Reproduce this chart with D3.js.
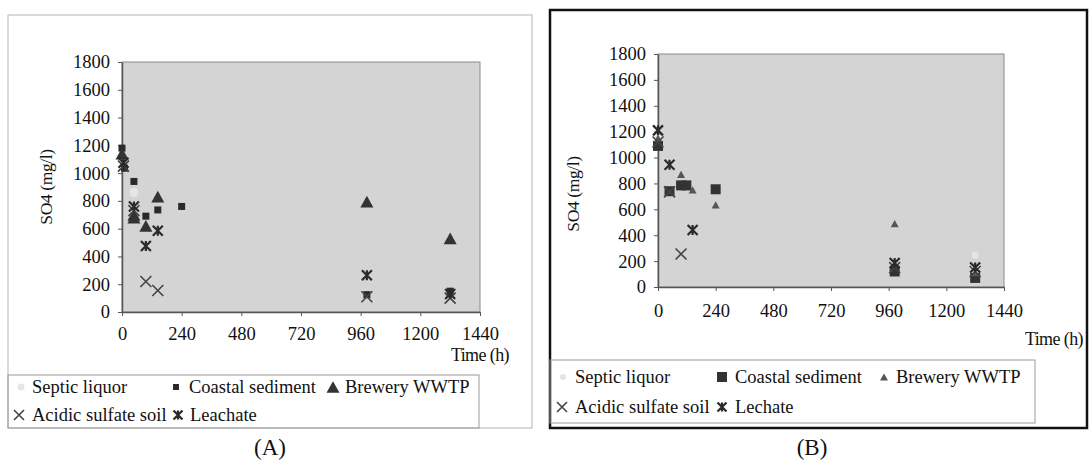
<!DOCTYPE html>
<html><head><meta charset="utf-8">
<script src="https://cdn.jsdelivr.net/npm/d3@7"></script>
<style>
html,body{margin:0;padding:0;background:#fff;}
svg text{font-family:"Liberation Serif","Times New Roman",serif;fill:#111;}
</style></head>
<body><svg id="chart" width="1089" height="466"></svg>
<script>
// ---------- data ----------
const xTicks = [0, 240, 480, 720, 960, 1200, 1440];
const yTicks = [0, 200, 400, 600, 800, 1000, 1200, 1400, 1600, 1800];
const namesA = ["Septic liquor", "Coastal sediment", "Brewery WWTP", "Acidic sulfate soil", "Leachate"];
const namesB = ["Septic liquor", "Coastal sediment", "Brewery WWTP", "Acidic sulfate soil", "Lechate"];
const xLabel = "Time (h)";
const yLabel = "SO4 (mg/l)";

// Panel A  [time h, SO4 mg/l]
const aSeptic   = [[0, 1110], [48, 860]];
const aCoastal  = [[0, 1180], [10, 1035], [48, 940], [96, 690], [144, 735], [240, 760], [985, 125], [1320, 150]];
const aBrewery  = [[0, 1140], [48, 700], [48, 680], [96, 620], [144, 830], [985, 795], [1320, 530]];
const aAcidic   = [[6, 1050], [48, 730], [96, 220], [144, 155], [985, 110], [1320, 100]];
const aLeachate = [[6, 1075], [48, 760], [96, 475], [144, 585], [985, 265], [1320, 130]];

// Panel B
const bSeptic   = [[0, 1150], [1320, 245]];
const bCoastal  = [[0, 1090], [48, 740], [96, 785], [118, 785], [240, 755], [985, 120], [1320, 70]];
const bBrewery  = [[0, 1150], [96, 870], [144, 750], [240, 635], [985, 490], [1320, 110]];
const bAcidic   = [[0, 1120], [48, 735], [96, 255], [985, 150], [1320, 120]];
const bLeachate = [[0, 1210], [48, 945], [144, 440], [985, 185], [1320, 150]];

// ---------- drawing ----------
const svg = d3.select("#chart");
const FONT = '"Liberation Serif", "Times New Roman", serif';

function marker(g, type, x, y, size, color) {
  const s = size;
  if (type === "circle") {
    g.append("circle").attr("cx", x).attr("cy", y).attr("r", s / 2).attr("fill", color);
  } else if (type === "square") {
    g.append("rect").attr("x", x - s / 2).attr("y", y - s / 2).attr("width", s).attr("height", s).attr("fill", color);
  } else if (type === "triangle") {
    const h = s * 0.9;
    g.append("path").attr("d", `M${x},${y - h / 2}L${x + s / 2},${y + h / 2}L${x - s / 2},${y + h / 2}Z`).attr("fill", color);
  } else if (type === "x") {
    const r = s / 2;
    g.append("path").attr("d", `M${x - r},${y - r}L${x + r},${y + r}M${x - r},${y + r}L${x + r},${y - r}`)
      .attr("stroke", color).attr("stroke-width", 1.6).attr("fill", "none");
  } else if (type === "star") {
    const r = s / 2;
    g.append("path").attr("d", `M${x - r},${y - r}L${x + r},${y + r}M${x - r},${y + r}L${x + r},${y - r}M${x},${y - r}L${x},${y + r}`)
      .attr("stroke", color).attr("stroke-width", 2.2).attr("fill", "none");
  }
}

function drawPanel(cfg) {
  const g = svg.append("g");
  g.append("rect").attr("x", cfg.frame[0]).attr("y", cfg.frame[1])
    .attr("width", cfg.frame[2]).attr("height", cfg.frame[3])
    .attr("fill", "none").attr("stroke", cfg.frameColor).attr("stroke-width", cfg.frameWidth);

  const x = d3.scaleLinear().domain([0, 1440]).range([cfg.plot[0], cfg.plot[1]]);
  const y = d3.scaleLinear().domain([0, 1800]).range([cfg.plot[3], cfg.plot[2]]);

  g.append("rect").attr("x", x(0)).attr("y", y(1800)).attr("width", x(1440) - x(0)).attr("height", y(0) - y(1800))
    .attr("fill", "#d4d4d4").attr("stroke", "#8a8a8a").attr("stroke-width", 1);

  const fmt = d3.format("d");
  const ax = g.append("g").attr("transform", `translate(0,${y(0)})`)
    .call(d3.axisBottom(x).tickValues(xTicks).tickFormat(fmt).tickSize(4).tickSizeOuter(0).tickPadding(cfg.xPad));
  const ay = g.append("g").attr("transform", `translate(${x(0)},0)`)
    .call(d3.axisLeft(y).tickValues(yTicks).tickFormat(fmt).tickSize(4).tickSizeOuter(0).tickPadding(8));
  [ax, ay].forEach(a => {
    a.attr("font-family", FONT);
    a.select(".domain").attr("stroke", "#555").attr("stroke-width", 1.5);
    a.selectAll(".tick line").attr("stroke", "#555");
    a.selectAll("text").attr("font-size", 18.5).attr("fill", "#111").style("font-family", FONT);
  });

  g.append("text").attr("x", cfg.timePos[0]).attr("y", cfg.timePos[1]).attr("text-anchor", "end")
    .attr("font-size", 18).attr("letter-spacing", "-0.6px").text(xLabel);
  g.append("text").attr("transform", `translate(${cfg.yLabPos[0]},${cfg.yLabPos[1]}) rotate(-90)`)
    .attr("text-anchor", "middle").attr("font-size", 17.5).attr("letter-spacing", "-0.4px").text(yLabel);

  const pts = g.append("g");
  cfg.series.forEach(s => {
    s.data.forEach(d => marker(pts, s.type, x(d[0]), y(d[1]), s.size, s.color));
  });

  g.append("rect").attr("x", cfg.legend[0]).attr("y", cfg.legend[1]).attr("width", cfg.legend[2]).attr("height", cfg.legend[3])
    .attr("fill", "none").attr("stroke", "#9a9a9a").attr("stroke-width", 1);
  cfg.series.forEach((s, i) => {
    const p = cfg.legendPos[i];
    marker(g, s.type, p[0], p[2] - 6, s.legSize, s.color);
    g.append("text").attr("x", p[1]).attr("y", p[2]).attr("font-size", 18.5).text(s.name);
  });

  g.append("text").attr("x", cfg.tag[0]).attr("y", cfg.tag[1]).attr("text-anchor", "middle")
    .attr("font-size", 23).text(cfg.tagText);
}

drawPanel({
  frame: [8, 15, 524, 413], frameColor: "#b5b5b5", frameWidth: 1,
  plot: [122, 480, 62, 312], xPad: 11,
  timePos: [509, 361], yLabPos: [52, 187],
  legend: [8, 375, 471, 53],
  legendPos: [[21, 32, 393], [176, 189, 393], [333, 345, 393], [19, 32, 421], [178, 190, 421]],
  tag: [270, 455], tagText: "(A)",
  series: [
    {name: namesA[0], data: aSeptic, type: "circle", size: 9, legSize: 7, color: "#e6e6e6"},
    {name: namesA[1], data: aCoastal, type: "square", size: 7, legSize: 6, color: "#2a2a2a"},
    {name: namesA[2], data: aBrewery, type: "triangle", size: 13, legSize: 13, color: "#333"},
    {name: namesA[3], data: aAcidic, type: "x", size: 11, legSize: 10, color: "#444"},
    {name: namesA[4], data: aLeachate, type: "star", size: 10, legSize: 9, color: "#2a2a2a"}
  ]
});

drawPanel({
  frame: [550, 10, 537, 418], frameColor: "#111", frameWidth: 2.5,
  plot: [658, 1004, 54, 287], xPad: 13,
  timePos: [1083, 345], yLabPos: [579, 194],
  legend: [550, 360, 485, 63],
  legendPos: [[563, 575, 383], [722, 735, 383], [884, 896, 383], [562, 575, 413], [722, 735, 413]],
  tag: [812, 455], tagText: "(B)",
  series: [
    {name: namesB[0], data: bSeptic, type: "circle", size: 7, legSize: 6, color: "#e4e4e4"},
    {name: namesB[1], data: bCoastal, type: "square", size: 10, legSize: 10, color: "#333"},
    {name: namesB[2], data: bBrewery, type: "triangle", size: 8, legSize: 8, color: "#555"},
    {name: namesB[3], data: bAcidic, type: "x", size: 11, legSize: 10, color: "#444"},
    {name: namesB[4], data: bLeachate, type: "star", size: 10, legSize: 9, color: "#2a2a2a"}
  ]
});
</script></body></html>
